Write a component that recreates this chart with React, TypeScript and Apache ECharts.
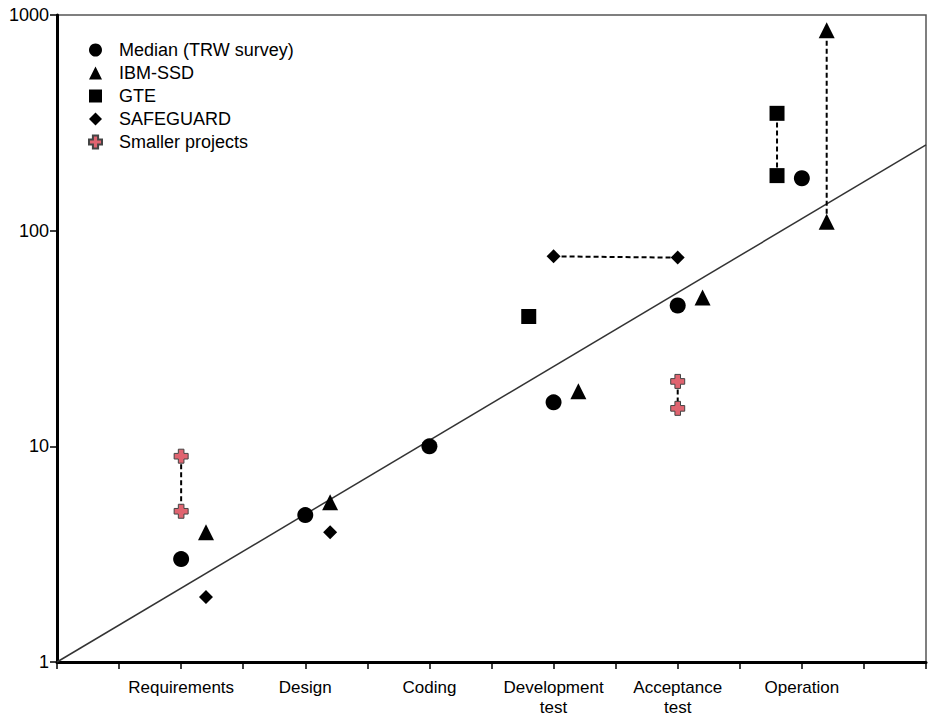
import React, { useEffect, useRef } from "react";
import * as echarts from "echarts";

const categories = ["Requirements", "Design", "Coding", "Development\ntest", "Acceptance\ntest", "Operation"];
const categoryPositions = [2, 4, 6, 8, 10, 12];
const yTicks = [1, 10, 100, 1000];

const medianTRW: [number, number][] = [[2, 3], [4, 4.8], [6, 10], [8, 16], [10, 45], [12, 175]];
const ibmSSD: [number, number][] = [[2.4, 4], [4.4, 5.5], [8.4, 18], [10.4, 49], [12.4, 110], [12.4, 850]];
const gte: [number, number][] = [[7.6, 40], [11.6, 180], [11.6, 350]];
const safeguard: [number, number][] = [[2.4, 2], [4.4, 4], [8, 76], [10, 75]];
const smallerProjects: [number, number][] = [[2, 9], [2, 5], [10, 20], [10, 15]];
const trendLine: [number, number][] = [[0, 1], [14, 250]];

const crossPath = "path://M3,0H7V3H10V7H7V10H3V7H0V3H3Z";
const FONT = "Liberation Sans, Arial, sans-serif";

export default function App() {
  const ref = useRef<HTMLDivElement>(null);
  useEffect(() => {
    if (!ref.current) return;
    const chart = echarts.init(ref.current, null, { renderer: "svg" });
    const dashed = (name: string, data: [number, number][]) => ({
      name: name + "-range",
      type: "line",
      data,
      symbol: "none",
      silent: true,
      z: 1,
      lineStyle: { color: "#000", width: 2, type: [5, 3] },
    });
    const scatter = (name: string, data: [number, number][], symbol: string, size: number, extra: any = {}) => ({
      name,
      type: "scatter",
      data,
      symbol,
      symbolSize: size,
      z: 3,
      itemStyle: { color: "#000", opacity: 1, ...extra },
    });
    chart.setOption({
      animation: false,
      textStyle: { fontFamily: FONT },
      grid: {
        left: 57,
        right: 2,
        top: 15,
        bottom: 53,
        show: true,
        borderColor: "#555",
        borderWidth: 1.5,
        outerBoundsMode: "none",
        containLabel: false,
      },
      legend: {
        orient: "vertical",
        left: 83,
        top: 36,
        itemWidth: 13,
        itemHeight: 13,
        itemGap: 5,
        data: ["Median (TRW survey)", "IBM-SSD", "GTE", "SAFEGUARD", "Smaller projects"],
        textStyle: { fontSize: 18, color: "#000", fontFamily: FONT, padding: [0, 0, 0, 12] },
      },
      xAxis: {
        type: "value",
        min: 0,
        max: 14,
        interval: 1,
        splitLine: { show: false },
        axisLine: { show: true, lineStyle: { color: "#000", width: 3 } },
        axisTick: { show: true, length: 7, lineStyle: { color: "#000", width: 1.5 } },
        axisLabel: {
          margin: 15,
          fontSize: 17,
          lineHeight: 20,
          color: "#000",
          fontFamily: FONT,
          verticalAlign: "top",
          formatter: (v: number) => {
            const i = categoryPositions.indexOf(v);
            return i >= 0 ? categories[i] : "";
          },
        },
      },
      yAxis: {
        type: "log",
        logBase: 10,
        min: yTicks[0],
        max: yTicks[yTicks.length - 1],
        splitLine: { show: false },
        minorTick: { show: false },
        axisLine: { show: true, lineStyle: { color: "#000", width: 3 } },
        axisTick: { show: true, length: 7, lineStyle: { color: "#000", width: 1.5 } },
        axisLabel: {
          fontSize: 18,
          color: "#000",
          fontFamily: FONT,
          margin: 8,
          formatter: (v: number) => String(Math.round(v)),
        },
      },
      series: [
        {
          name: "trend",
          type: "line",
          data: trendLine,
          symbol: "none",
          silent: true,
          z: 1,
          lineStyle: { color: "#333", width: 1.5 },
        },
        dashed("smallerReq", smallerProjects.slice(0, 2)),
        dashed("smallerAcc", smallerProjects.slice(2, 4)),
        dashed("gte", gte.slice(1, 3)),
        dashed("ibm", ibmSSD.slice(4, 6)),
        dashed("safeguard", safeguard.slice(2, 4)),
        scatter("Median (TRW survey)", medianTRW, "circle", 16),
        scatter("IBM-SSD", ibmSSD, "triangle", 16),
        scatter("GTE", gte, "rect", 15),
        scatter("SAFEGUARD", safeguard, "diamond", 14),
        scatter("Smaller projects", smallerProjects, crossPath, 14, {
          color: "#e06470",
          borderColor: "#444",
          borderWidth: 1,
        }),
      ],
    });
    return () => chart.dispose();
  }, []);
  return <div ref={ref} style={{ position: "absolute", left: 0, top: 0, width: 928, height: 715 }} />;
}
